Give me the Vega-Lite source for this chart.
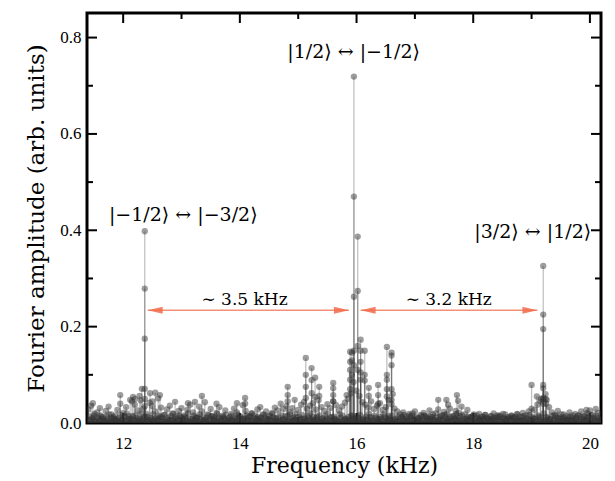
{
"$schema": "https://vega.github.io/schema/vega-lite/v6.json",
"width": 514, "height": 410,
"autosize": "none",
"padding": {"left": 87, "top": 13, "right": 14, "bottom": 58},
"background": "white",
"config": {"view": {"stroke": "black", "strokeWidth": 3}, "axis": {"grid": false, "domain": false}},
"datasets": {
"spec": [
{"f":11.4,"a":0.028},{"f":11.45,"a":0.036},{"f":11.5,"a":0.015},{"f":11.55,"a":0.022},{"f":11.6,"a":0.031},{"f":11.65,"a":0.012},{"f":11.7,"a":0.025},{"f":11.75,"a":0.034},{"f":11.8,"a":0.018},{"f":11.85,"a":0.009},
{"f":11.9,"a":0.027},{"f":11.95,"a":0.04},{"f":12.0,"a":0.021},{"f":12.05,"a":0.033},{"f":12.1,"a":0.014},{"f":12.15,"a":0.045},{"f":12.2,"a":0.038},{"f":12.25,"a":0.026},{"f":12.3,"a":0.047},{"f":12.35,"a":0.03},
{"f":12.4,"a":0.019},{"f":12.45,"a":0.042},{"f":12.5,"a":0.035},{"f":12.55,"a":0.024},{"f":12.6,"a":0.051},{"f":12.65,"a":0.032},{"f":12.7,"a":0.017},{"f":12.75,"a":0.028},{"f":12.8,"a":0.036},{"f":12.85,"a":0.02},
{"f":12.9,"a":0.013},{"f":12.95,"a":0.025},{"f":13.0,"a":0.031},{"f":13.05,"a":0.016},{"f":13.1,"a":0.027},{"f":13.15,"a":0.038},{"f":13.2,"a":0.022},{"f":13.25,"a":0.011},{"f":13.3,"a":0.034},{"f":13.35,"a":0.024},
{"f":13.4,"a":0.043},{"f":13.45,"a":0.018},{"f":13.5,"a":0.029},{"f":13.55,"a":0.012},{"f":13.6,"a":0.021},{"f":13.65,"a":0.033},{"f":13.7,"a":0.015},{"f":13.75,"a":0.026},{"f":13.8,"a":0.009},{"f":13.85,"a":0.019},
{"f":13.9,"a":0.03},{"f":13.95,"a":0.022},{"f":14.0,"a":0.014},{"f":14.05,"a":0.037},{"f":14.1,"a":0.025},{"f":14.15,"a":0.011},{"f":14.2,"a":0.02},{"f":14.25,"a":0.016},{"f":14.3,"a":0.028},{"f":14.35,"a":0.01},
{"f":14.4,"a":0.018},{"f":14.45,"a":0.024},{"f":14.5,"a":0.013},{"f":14.55,"a":0.021},{"f":14.6,"a":0.032},{"f":14.65,"a":0.026},{"f":14.7,"a":0.04},{"f":14.75,"a":0.029},{"f":14.8,"a":0.035},{"f":14.85,"a":0.023},
{"f":14.9,"a":0.031},{"f":14.95,"a":0.019},{"f":15.0,"a":0.027},{"f":15.05,"a":0.038},{"f":15.1,"a":0.044},{"f":15.15,"a":0.03},{"f":15.2,"a":0.036},{"f":15.25,"a":0.041},{"f":15.3,"a":0.028},{"f":15.35,"a":0.047},
{"f":15.4,"a":0.033},{"f":15.45,"a":0.025},{"f":15.5,"a":0.039},{"f":15.55,"a":0.031},{"f":15.6,"a":0.045},{"f":15.65,"a":0.037},{"f":15.7,"a":0.026},{"f":15.75,"a":0.034},{"f":15.8,"a":0.042},{"f":15.85,"a":0.05},
{"f":15.9,"a":0.061},{"f":15.95,"a":0.085},{"f":16.0,"a":0.067},{"f":16.05,"a":0.056},{"f":16.1,"a":0.043},{"f":16.15,"a":0.038},{"f":16.2,"a":0.032},{"f":16.25,"a":0.045},{"f":16.3,"a":0.029},{"f":16.35,"a":0.036},
{"f":16.4,"a":0.041},{"f":16.45,"a":0.027},{"f":16.5,"a":0.033},{"f":16.55,"a":0.048},{"f":16.6,"a":0.039},{"f":16.65,"a":0.03},{"f":16.7,"a":0.024},{"f":16.75,"a":0.018},{"f":16.8,"a":0.022},{"f":16.85,"a":0.013},
{"f":16.9,"a":0.019},{"f":16.95,"a":0.015},{"f":17.0,"a":0.024},{"f":17.05,"a":0.011},{"f":17.1,"a":0.017},{"f":17.15,"a":0.021},{"f":17.2,"a":0.014},{"f":17.25,"a":0.026},{"f":17.3,"a":0.012},{"f":17.35,"a":0.02},
{"f":17.4,"a":0.028},{"f":17.45,"a":0.016},{"f":17.5,"a":0.023},{"f":17.55,"a":0.019},{"f":17.6,"a":0.03},{"f":17.65,"a":0.014},{"f":17.7,"a":0.025},{"f":17.75,"a":0.021},{"f":17.8,"a":0.034},{"f":17.85,"a":0.018},
{"f":17.9,"a":0.027},{"f":17.95,"a":0.012},{"f":18.0,"a":0.016},{"f":18.05,"a":0.01},{"f":18.1,"a":0.019},{"f":18.15,"a":0.013},{"f":18.2,"a":0.017},{"f":18.25,"a":0.008},{"f":18.3,"a":0.014},{"f":18.35,"a":0.02},
{"f":18.4,"a":0.011},{"f":18.45,"a":0.016},{"f":18.5,"a":0.009},{"f":18.55,"a":0.018},{"f":18.6,"a":0.012},{"f":18.65,"a":0.015},{"f":18.7,"a":0.01},{"f":18.75,"a":0.019},{"f":18.8,"a":0.013},{"f":18.85,"a":0.021},
{"f":18.9,"a":0.016},{"f":18.95,"a":0.024},{"f":19.0,"a":0.03},{"f":19.05,"a":0.027},{"f":19.1,"a":0.038},{"f":19.15,"a":0.045},{"f":19.2,"a":0.052},{"f":19.25,"a":0.04},{"f":19.3,"a":0.033},{"f":19.35,"a":0.022},
{"f":19.4,"a":0.017},{"f":19.45,"a":0.025},{"f":19.5,"a":0.012},{"f":19.55,"a":0.018},{"f":19.6,"a":0.014},{"f":19.65,"a":0.022},{"f":19.7,"a":0.011},{"f":19.75,"a":0.019},{"f":19.8,"a":0.016},{"f":19.85,"a":0.024},
{"f":19.9,"a":0.013},{"f":19.95,"a":0.02},{"f":20.0,"a":0.026},{"f":20.05,"a":0.017},{"f":20.1,"a":0.029},{"f":20.15,"a":0.021},
{"f":11.425,"a":0.006},{"f":11.475,"a":0.011},{"f":11.525,"a":0.003},{"f":11.575,"a":0.009},{"f":11.625,"a":0.013},{"f":11.675,"a":0.004},{"f":11.725,"a":0.008},{"f":11.775,"a":0.002},{"f":11.825,"a":0.012},{"f":11.875,"a":0.007},
{"f":11.925,"a":0.01},{"f":11.975,"a":0.005},{"f":12.025,"a":0.014},{"f":12.075,"a":0.003},{"f":12.125,"a":0.009},{"f":12.175,"a":0.006},{"f":12.225,"a":0.011},{"f":12.275,"a":0.004},{"f":12.325,"a":0.008},{"f":12.375,"a":0.013},
{"f":12.425,"a":0.002},{"f":12.475,"a":0.01},{"f":12.525,"a":0.007},{"f":12.575,"a":0.005},{"f":12.625,"a":0.012},{"f":12.675,"a":0.009},{"f":12.725,"a":0.003},{"f":12.775,"a":0.011},{"f":12.825,"a":0.006},{"f":12.875,"a":0.008},
{"f":12.925,"a":0.004},{"f":12.975,"a":0.013},{"f":13.025,"a":0.007},{"f":13.075,"a":0.01},{"f":13.125,"a":0.002},{"f":13.175,"a":0.009},{"f":13.225,"a":0.005},{"f":13.275,"a":0.012},{"f":13.325,"a":0.008},{"f":13.375,"a":0.003},
{"f":13.425,"a":0.011},{"f":13.475,"a":0.006},{"f":13.525,"a":0.014},{"f":13.575,"a":0.004},{"f":13.625,"a":0.009},{"f":13.675,"a":0.007},{"f":13.725,"a":0.01},{"f":13.775,"a":0.003},{"f":13.825,"a":0.012},{"f":13.875,"a":0.005},
{"f":13.925,"a":0.008},{"f":13.975,"a":0.011},{"f":14.025,"a":0.002},{"f":14.075,"a":0.009},{"f":14.125,"a":0.006},{"f":14.175,"a":0.013},{"f":14.225,"a":0.004},{"f":14.275,"a":0.01},{"f":14.325,"a":0.007},{"f":14.375,"a":0.003},
{"f":14.425,"a":0.012},{"f":14.475,"a":0.008},{"f":14.525,"a":0.005},{"f":14.575,"a":0.011},{"f":14.625,"a":0.009},{"f":14.675,"a":0.002},{"f":14.725,"a":0.006},{"f":14.775,"a":0.014},{"f":14.825,"a":0.004},{"f":14.875,"a":0.01},
{"f":14.925,"a":0.007},{"f":14.975,"a":0.012},{"f":15.025,"a":0.003},{"f":15.075,"a":0.009},{"f":15.125,"a":0.005},{"f":15.175,"a":0.011},{"f":15.225,"a":0.008},{"f":15.275,"a":0.006},{"f":15.325,"a":0.013},{"f":15.375,"a":0.002},
{"f":15.425,"a":0.01},{"f":15.475,"a":0.004},{"f":15.525,"a":0.007},{"f":15.575,"a":0.012},{"f":15.625,"a":0.009},{"f":15.675,"a":0.003},{"f":15.725,"a":0.011},{"f":15.775,"a":0.005},{"f":15.825,"a":0.008},{"f":15.875,"a":0.006},
{"f":15.925,"a":0.014},{"f":15.975,"a":0.004},{"f":16.025,"a":0.01},{"f":16.075,"a":0.002},{"f":16.125,"a":0.009},{"f":16.175,"a":0.007},{"f":16.225,"a":0.012},{"f":16.275,"a":0.005},{"f":16.325,"a":0.011},{"f":16.375,"a":0.003},
{"f":16.425,"a":0.008},{"f":16.475,"a":0.013},{"f":16.525,"a":0.006},{"f":16.575,"a":0.01},{"f":16.625,"a":0.004},{"f":16.675,"a":0.009},{"f":16.725,"a":0.002},{"f":16.775,"a":0.012},{"f":16.825,"a":0.007},{"f":16.875,"a":0.005},
{"f":16.925,"a":0.011},{"f":16.975,"a":0.008},{"f":17.025,"a":0.003},{"f":17.075,"a":0.01},{"f":17.125,"a":0.006},{"f":17.175,"a":0.013},{"f":17.225,"a":0.004},{"f":17.275,"a":0.009},{"f":17.325,"a":0.007},{"f":17.375,"a":0.002},
{"f":17.425,"a":0.012},{"f":17.475,"a":0.005},{"f":17.525,"a":0.011},{"f":17.575,"a":0.008},{"f":17.625,"a":0.003},{"f":17.675,"a":0.01},{"f":17.725,"a":0.006},{"f":17.775,"a":0.014},{"f":17.825,"a":0.004},{"f":17.875,"a":0.009},
{"f":17.925,"a":0.007},{"f":17.975,"a":0.012},{"f":18.025,"a":0.002},{"f":18.075,"a":0.01},{"f":18.125,"a":0.005},{"f":18.175,"a":0.008},{"f":18.225,"a":0.011},{"f":18.275,"a":0.003},{"f":18.325,"a":0.009},{"f":18.375,"a":0.006},
{"f":18.425,"a":0.013},{"f":18.475,"a":0.004},{"f":18.525,"a":0.01},{"f":18.575,"a":0.007},{"f":18.625,"a":0.002},{"f":18.675,"a":0.012},{"f":18.725,"a":0.008},{"f":18.775,"a":0.005},{"f":18.825,"a":0.011},{"f":18.875,"a":0.003},
{"f":18.925,"a":0.009},{"f":18.975,"a":0.006},{"f":19.025,"a":0.01},{"f":19.075,"a":0.004},{"f":19.125,"a":0.013},{"f":19.175,"a":0.007},{"f":19.225,"a":0.002},{"f":19.275,"a":0.011},{"f":19.325,"a":0.008},{"f":19.375,"a":0.005},
{"f":19.425,"a":0.012},{"f":19.475,"a":0.003},{"f":19.525,"a":0.009},{"f":19.575,"a":0.006},{"f":19.625,"a":0.01},{"f":19.675,"a":0.004},{"f":19.725,"a":0.007},{"f":19.775,"a":0.011},{"f":19.825,"a":0.002},{"f":19.875,"a":0.008},
{"f":19.925,"a":0.005},{"f":19.975,"a":0.012},{"f":20.025,"a":0.009},{"f":20.075,"a":0.003},{"f":20.125,"a":0.01},{"f":20.175,"a":0.006},
{"f":11.41,"a":0.014},{"f":11.46,"a":0.008},{"f":11.51,"a":0.019},{"f":11.56,"a":0.011},{"f":11.61,"a":0.016},{"f":11.66,"a":0.007},{"f":11.71,"a":0.013},{"f":11.76,"a":0.018},{"f":11.81,"a":0.01},{"f":11.86,"a":0.015},
{"f":11.91,"a":0.006},{"f":11.96,"a":0.017},{"f":12.01,"a":0.012},{"f":12.06,"a":0.02},{"f":12.11,"a":0.009},{"f":12.16,"a":0.014},{"f":12.21,"a":0.016},{"f":12.26,"a":0.008},{"f":12.31,"a":0.019},{"f":12.36,"a":0.011},
{"f":12.41,"a":0.013},{"f":12.46,"a":0.007},{"f":12.51,"a":0.018},{"f":12.56,"a":0.01},{"f":12.61,"a":0.015},{"f":12.66,"a":0.012},{"f":12.71,"a":0.017},{"f":12.76,"a":0.006},{"f":12.81,"a":0.014},{"f":12.86,"a":0.019},
{"f":12.91,"a":0.009},{"f":12.96,"a":0.016},{"f":13.01,"a":0.011},{"f":13.06,"a":0.013},{"f":13.11,"a":0.02},{"f":13.16,"a":0.008},{"f":13.21,"a":0.015},{"f":13.26,"a":0.01},{"f":13.31,"a":0.018},{"f":13.36,"a":0.012},
{"f":13.41,"a":0.007},{"f":13.46,"a":0.016},{"f":13.51,"a":0.014},{"f":13.56,"a":0.009},{"f":13.61,"a":0.019},{"f":13.66,"a":0.011},{"f":13.71,"a":0.013},{"f":13.76,"a":0.017},{"f":13.81,"a":0.006},{"f":13.86,"a":0.015},
{"f":13.91,"a":0.01},{"f":13.96,"a":0.018},{"f":14.01,"a":0.012},{"f":14.06,"a":0.008},{"f":14.11,"a":0.016},{"f":14.16,"a":0.014},{"f":14.21,"a":0.02},{"f":14.26,"a":0.009},{"f":14.31,"a":0.013},{"f":14.36,"a":0.011},
{"f":14.41,"a":0.017},{"f":14.46,"a":0.007},{"f":14.51,"a":0.015},{"f":14.56,"a":0.019},{"f":14.61,"a":0.01},{"f":14.66,"a":0.012},{"f":14.71,"a":0.016},{"f":14.76,"a":0.008},{"f":14.81,"a":0.014},{"f":14.86,"a":0.018},
{"f":14.91,"a":0.011},{"f":14.96,"a":0.006},{"f":15.01,"a":0.013},{"f":15.06,"a":0.017},{"f":15.11,"a":0.009},{"f":15.16,"a":0.015},{"f":15.21,"a":0.02},{"f":15.26,"a":0.012},{"f":15.31,"a":0.01},{"f":15.36,"a":0.016},
{"f":15.41,"a":0.008},{"f":15.46,"a":0.014},{"f":15.51,"a":0.019},{"f":15.56,"a":0.011},{"f":15.61,"a":0.013},{"f":15.66,"a":0.007},{"f":15.71,"a":0.018},{"f":15.76,"a":0.015},{"f":15.81,"a":0.009},{"f":15.86,"a":0.012},
{"f":15.91,"a":0.016},{"f":15.96,"a":0.01},{"f":16.01,"a":0.014},{"f":16.06,"a":0.017},{"f":16.11,"a":0.006},{"f":16.16,"a":0.013},{"f":16.21,"a":0.019},{"f":16.26,"a":0.011},{"f":16.31,"a":0.015},{"f":16.36,"a":0.008},
{"f":16.41,"a":0.012},{"f":16.46,"a":0.018},{"f":16.51,"a":0.01},{"f":16.56,"a":0.014},{"f":16.61,"a":0.016},{"f":16.66,"a":0.007},{"f":16.71,"a":0.013},{"f":16.76,"a":0.011},{"f":16.81,"a":0.017},{"f":16.86,"a":0.009},
{"f":16.91,"a":0.015},{"f":16.96,"a":0.02},{"f":17.01,"a":0.012},{"f":17.06,"a":0.008},{"f":17.11,"a":0.014},{"f":17.16,"a":0.016},{"f":17.21,"a":0.01},{"f":17.26,"a":0.013},{"f":17.31,"a":0.018},{"f":17.36,"a":0.011},
{"f":17.41,"a":0.006},{"f":17.46,"a":0.015},{"f":17.51,"a":0.017},{"f":17.56,"a":0.009},{"f":17.61,"a":0.012},{"f":17.66,"a":0.014},{"f":17.71,"a":0.019},{"f":17.76,"a":0.01},{"f":17.81,"a":0.016},{"f":17.86,"a":0.008},
{"f":17.91,"a":0.013},{"f":17.96,"a":0.011},{"f":18.01,"a":0.018},{"f":18.06,"a":0.015},{"f":18.11,"a":0.007},{"f":18.16,"a":0.012},{"f":18.21,"a":0.017},{"f":18.26,"a":0.009},{"f":18.31,"a":0.014},{"f":18.36,"a":0.01},
{"f":18.41,"a":0.016},{"f":18.46,"a":0.013},{"f":18.51,"a":0.019},{"f":18.56,"a":0.008},{"f":18.61,"a":0.011},{"f":18.66,"a":0.015},{"f":18.71,"a":0.012},{"f":18.76,"a":0.018},{"f":18.81,"a":0.006},{"f":18.86,"a":0.014},
{"f":18.91,"a":0.01},{"f":18.96,"a":0.017},{"f":19.01,"a":0.013},{"f":19.06,"a":0.009},{"f":19.11,"a":0.016},{"f":19.16,"a":0.011},{"f":19.21,"a":0.02},{"f":19.26,"a":0.012},{"f":19.31,"a":0.008},{"f":19.36,"a":0.015},
{"f":19.41,"a":0.014},{"f":19.46,"a":0.01},{"f":19.51,"a":0.018},{"f":19.56,"a":0.011},{"f":19.61,"a":0.007},{"f":19.66,"a":0.013},{"f":19.71,"a":0.016},{"f":19.76,"a":0.009},{"f":19.81,"a":0.015},{"f":19.86,"a":0.012},
{"f":19.91,"a":0.014},{"f":19.96,"a":0.01},{"f":20.01,"a":0.017},{"f":20.06,"a":0.011},{"f":20.11,"a":0.015},{"f":20.16,"a":0.009},
{"f":11.44,"a":0.003},{"f":11.49,"a":0.006},{"f":11.54,"a":0.002},{"f":11.59,"a":0.005},{"f":11.64,"a":0.008},{"f":11.69,"a":0.001},{"f":11.74,"a":0.004},{"f":11.79,"a":0.007},{"f":11.84,"a":0.003},{"f":11.89,"a":0.005},
{"f":11.94,"a":0.002},{"f":11.99,"a":0.006},{"f":12.04,"a":0.004},{"f":12.09,"a":0.008},{"f":12.14,"a":0.001},{"f":12.19,"a":0.005},{"f":12.24,"a":0.003},{"f":12.29,"a":0.007},{"f":12.34,"a":0.002},{"f":12.39,"a":0.004},
{"f":12.44,"a":0.006},{"f":12.49,"a":0.001},{"f":12.54,"a":0.005},{"f":12.59,"a":0.008},{"f":12.64,"a":0.003},{"f":12.69,"a":0.004},{"f":12.74,"a":0.002},{"f":12.79,"a":0.007},{"f":12.84,"a":0.005},{"f":12.89,"a":0.001},
{"f":12.94,"a":0.006},{"f":12.99,"a":0.003},{"f":13.04,"a":0.008},{"f":13.09,"a":0.004},{"f":13.14,"a":0.002},{"f":13.19,"a":0.005},{"f":13.24,"a":0.007},{"f":13.29,"a":0.001},{"f":13.34,"a":0.003},{"f":13.39,"a":0.006},
{"f":13.44,"a":0.004},{"f":13.49,"a":0.002},{"f":13.54,"a":0.008},{"f":13.59,"a":0.005},{"f":13.64,"a":0.001},{"f":13.69,"a":0.003},{"f":13.74,"a":0.007},{"f":13.79,"a":0.004},{"f":13.84,"a":0.006},{"f":13.89,"a":0.002},
{"f":13.94,"a":0.005},{"f":13.99,"a":0.001},{"f":14.04,"a":0.008},{"f":14.09,"a":0.003},{"f":14.14,"a":0.004},{"f":14.19,"a":0.006},{"f":14.24,"a":0.002},{"f":14.29,"a":0.007},{"f":14.34,"a":0.005},{"f":14.39,"a":0.001},
{"f":14.44,"a":0.003},{"f":14.49,"a":0.008},{"f":14.54,"a":0.004},{"f":14.59,"a":0.006},{"f":14.64,"a":0.002},{"f":14.69,"a":0.005},{"f":14.74,"a":0.007},{"f":14.79,"a":0.001},{"f":14.84,"a":0.003},{"f":14.89,"a":0.004},
{"f":14.94,"a":0.006},{"f":14.99,"a":0.002},{"f":15.04,"a":0.008},{"f":15.09,"a":0.005},{"f":15.14,"a":0.001},{"f":15.19,"a":0.007},{"f":15.24,"a":0.003},{"f":15.29,"a":0.004},{"f":15.34,"a":0.006},{"f":15.39,"a":0.002},
{"f":15.44,"a":0.005},{"f":15.49,"a":0.008},{"f":15.54,"a":0.001},{"f":15.59,"a":0.003},{"f":15.64,"a":0.007},{"f":15.69,"a":0.004},{"f":15.74,"a":0.002},{"f":15.79,"a":0.006},{"f":15.84,"a":0.005},{"f":15.89,"a":0.001},
{"f":15.94,"a":0.008},{"f":15.99,"a":0.003},{"f":16.04,"a":0.004},{"f":16.09,"a":0.007},{"f":16.14,"a":0.002},{"f":16.19,"a":0.006},{"f":16.24,"a":0.005},{"f":16.29,"a":0.001},{"f":16.34,"a":0.003},{"f":16.39,"a":0.008},
{"f":16.44,"a":0.004},{"f":16.49,"a":0.002},{"f":16.54,"a":0.007},{"f":16.59,"a":0.006},{"f":16.64,"a":0.001},{"f":16.69,"a":0.005},{"f":16.74,"a":0.003},{"f":16.79,"a":0.008},{"f":16.84,"a":0.004},{"f":16.89,"a":0.002},
{"f":16.94,"a":0.006},{"f":16.99,"a":0.007},{"f":17.04,"a":0.001},{"f":17.09,"a":0.005},{"f":17.14,"a":0.003},{"f":17.19,"a":0.004},{"f":17.24,"a":0.008},{"f":17.29,"a":0.002},{"f":17.34,"a":0.006},{"f":17.39,"a":0.001},
{"f":17.44,"a":0.007},{"f":17.49,"a":0.005},{"f":17.54,"a":0.003},{"f":17.59,"a":0.004},{"f":17.64,"a":0.002},{"f":17.69,"a":0.008},{"f":17.74,"a":0.006},{"f":17.79,"a":0.001},{"f":17.84,"a":0.005},{"f":17.89,"a":0.007},
{"f":17.94,"a":0.003},{"f":17.99,"a":0.004},{"f":18.04,"a":0.002},{"f":18.09,"a":0.006},{"f":18.14,"a":0.008},{"f":18.19,"a":0.001},{"f":18.24,"a":0.005},{"f":18.29,"a":0.003},{"f":18.34,"a":0.007},{"f":18.39,"a":0.004},
{"f":18.44,"a":0.002},{"f":18.49,"a":0.006},{"f":18.54,"a":0.001},{"f":18.59,"a":0.008},{"f":18.64,"a":0.005},{"f":18.69,"a":0.003},{"f":18.74,"a":0.004},{"f":18.79,"a":0.007},{"f":18.84,"a":0.002},{"f":18.89,"a":0.006},
{"f":18.94,"a":0.001},{"f":18.99,"a":0.005},{"f":19.04,"a":0.008},{"f":19.09,"a":0.003},{"f":19.14,"a":0.004},{"f":19.19,"a":0.002},{"f":19.24,"a":0.007},{"f":19.29,"a":0.006},{"f":19.34,"a":0.001},{"f":19.39,"a":0.005},
{"f":19.44,"a":0.003},{"f":19.49,"a":0.008},{"f":19.54,"a":0.004},{"f":19.59,"a":0.002},{"f":19.64,"a":0.006},{"f":19.69,"a":0.007},{"f":19.74,"a":0.001},{"f":19.79,"a":0.005},{"f":19.84,"a":0.003},{"f":19.89,"a":0.004},
{"f":19.94,"a":0.006},{"f":19.99,"a":0.002},{"f":20.04,"a":0.007},{"f":20.09,"a":0.005},{"f":20.14,"a":0.003},{"f":20.19,"a":0.004},
{"f":11.48,"a":0.041},{"f":11.95,"a":0.058},{"f":12.12,"a":0.048},{"f":12.17,"a":0.054},{"f":12.2,"a":0.05},{"f":12.28,"a":0.056},{"f":12.32,"a":0.071},{"f":12.46,"a":0.062},{"f":12.5,"a":0.045},{"f":12.55,"a":0.063},
{"f":12.63,"a":0.058},{"f":12.89,"a":0.044},{"f":13.11,"a":0.041},{"f":13.23,"a":0.044},{"f":13.35,"a":0.056},{"f":13.6,"a":0.04},{"f":13.95,"a":0.041},{"f":14.09,"a":0.052},{"f":14.09,"a":0.04},{"f":14.35,"a":0.033},
{"f":17.4,"a":0.048},{"f":17.54,"a":0.048},{"f":17.57,"a":0.038},{"f":17.72,"a":0.058},{"f":17.74,"a":0.046},{"f":19.0,"a":0.079},{"f":19.09,"a":0.055},{"f":19.26,"a":0.048},{"f":19.94,"a":0.027},
{"f":12.37,"a":0.398},{"f":12.37,"a":0.279},{"f":12.37,"a":0.175},{"f":12.37,"a":0.071},{"f":12.37,"a":0.05},{"f":12.37,"a":0.035},
{"f":15.955,"a":0.719},{"f":15.955,"a":0.47},{"f":15.955,"a":0.262},{"f":15.955,"a":0.15},{"f":15.955,"a":0.12},
{"f":16.02,"a":0.387},{"f":16.02,"a":0.274},{"f":16.02,"a":0.16},{"f":16.02,"a":0.11},
{"f":16.07,"a":0.173},{"f":16.07,"a":0.15},{"f":16.07,"a":0.127},{"f":16.07,"a":0.105},{"f":16.07,"a":0.09},
{"f":15.89,"a":0.148},{"f":15.89,"a":0.127},{"f":15.89,"a":0.11},{"f":15.89,"a":0.09},{"f":15.89,"a":0.07},
{"f":15.92,"a":0.146},{"f":15.92,"a":0.13},{"f":15.92,"a":0.1},
{"f":16.14,"a":0.15},{"f":16.14,"a":0.1},{"f":16.14,"a":0.088},
{"f":15.13,"a":0.135},{"f":15.13,"a":0.1},{"f":15.13,"a":0.075},{"f":15.13,"a":0.052},
{"f":15.23,"a":0.114},{"f":15.23,"a":0.089},{"f":15.23,"a":0.062},
{"f":15.29,"a":0.094},{"f":15.29,"a":0.054},
{"f":15.36,"a":0.075},{"f":15.36,"a":0.056},
{"f":14.82,"a":0.075},{"f":14.82,"a":0.058},{"f":14.82,"a":0.045},
{"f":14.94,"a":0.048},
{"f":15.6,"a":0.083},{"f":15.6,"a":0.072},{"f":15.6,"a":0.058},{"f":15.6,"a":0.045},
{"f":15.83,"a":0.058},
{"f":16.21,"a":0.073},{"f":16.21,"a":0.056},
{"f":16.37,"a":0.079},{"f":16.37,"a":0.058},{"f":16.37,"a":0.04},
{"f":16.52,"a":0.158},{"f":16.52,"a":0.1},{"f":16.52,"a":0.09},{"f":16.52,"a":0.07},{"f":16.52,"a":0.055},
{"f":16.6,"a":0.146},{"f":16.6,"a":0.14},{"f":16.6,"a":0.12},{"f":16.6,"a":0.07},{"f":16.6,"a":0.048},
{"f":16.62,"a":0.06},
{"f":19.2,"a":0.326},{"f":19.2,"a":0.225},{"f":19.2,"a":0.195},{"f":19.2,"a":0.079},{"f":19.2,"a":0.072},{"f":19.2,"a":0.05},{"f":19.2,"a":0.04},
{"f":19.24,"a":0.06},{"f":19.24,"a":0.05},{"f":19.16,"a":0.05}
],
"arrows": [{"x1":12.42,"x2":15.87,"y":0.234},{"x1":16.07,"x2":19.1,"y":0.234}],
"heads": [{"x":12.42,"y":0.234,"d":"L"},{"x":15.87,"y":0.234,"d":"R"},{"x":16.07,"y":0.234,"d":"L"},{"x":19.1,"y":0.234,"d":"R"}],
"notes": [
{"x":15.95,"y":0.771,"t":"|1/2⟩ ↔ |−1/2⟩","k":"ket"},
{"x":13.03,"y":0.432,"t":"|−1/2⟩ ↔ |−3/2⟩","k":"ket"},
{"x":19.02,"y":0.397,"t":"|3/2⟩ ↔ |1/2⟩","k":"ket"},
{"x":14.08,"y":0.256,"t":"∼ 3.5 kHz","k":"gap"},
{"x":17.58,"y":0.256,"t":"∼ 3.2 kHz","k":"gap"}
],
"xt": [{"v":12,"k":"M"},{"v":13,"k":"m"},{"v":14,"k":"M"},{"v":15,"k":"m"},{"v":16,"k":"M"},{"v":17,"k":"m"},{"v":18,"k":"M"},{"v":19,"k":"m"},{"v":20,"k":"M"}],
"yt": [{"v":0.2,"k":"M"},{"v":0.1,"k":"m"},{"v":0.3,"k":"m"},{"v":0.4,"k":"M"},{"v":0.5,"k":"m"},{"v":0.6,"k":"M"},{"v":0.7,"k":"m"},{"v":0.8,"k":"M"}]
},
"layer": [
{
"data": {"name": "spec"},
"mark": {"type": "rule", "clip": true, "color": "#333333", "opacity": 0.3, "strokeWidth": 1.3},
"encoding": {
"x": {"field": "f", "type": "quantitative", "scale": {"domain": [11.38, 20.19], "nice": false, "zero": false},
"axis": {"orient": "bottom", "values": [12, 14, 16, 18, 20], "format": "d", "ticks": false, "labelFont": "Liberation Serif", "labelFontSize": 17, "labelColor": "black", "labelPadding": 12, "title": "Frequency (kHz)", "titleFont": "DejaVu Serif", "titleFontSize": 22, "titleFontWeight": "normal", "titleColor": "black", "titlePadding": 4}},
"y": {"field": "a", "type": "quantitative", "scale": {"domain": [0, 0.851], "nice": false},
"axis": {"orient": "left", "values": [0, 0.2, 0.4, 0.6, 0.8], "format": ".1f", "ticks": false, "labelFont": "Liberation Serif", "labelFontSize": 17, "labelColor": "black", "labelPadding": 6, "title": "Fourier amplitude (arb. units)", "titleFont": "DejaVu Serif", "titleFontSize": 23, "titleFontWeight": "normal", "titleColor": "black", "titlePadding": 11}},
"y2": {"datum": 0}
}
},
{
"data": {"name": "xt"},
"transform": [{"filter": "datum.k === 'M'"}],
"mark": {"type": "rule", "color": "black", "strokeWidth": 2},
"encoding": {"x": {"field": "v", "type": "quantitative"}, "y": {"datum": 0}, "y2": {"datum": 0.0208}}
},
{
"data": {"name": "xt"},
"transform": [{"filter": "datum.k === 'm'"}],
"mark": {"type": "rule", "color": "black", "strokeWidth": 2},
"encoding": {"x": {"field": "v", "type": "quantitative"}, "y": {"datum": 0}, "y2": {"datum": 0.0125}}
},
{
"data": {"name": "xt"},
"transform": [{"filter": "datum.k === 'M'"}],
"mark": {"type": "rule", "color": "black", "strokeWidth": 2},
"encoding": {"x": {"field": "v", "type": "quantitative"}, "y": {"datum": 0.851}, "y2": {"datum": 0.8302}}
},
{
"data": {"name": "xt"},
"transform": [{"filter": "datum.k === 'm'"}],
"mark": {"type": "rule", "color": "black", "strokeWidth": 2},
"encoding": {"x": {"field": "v", "type": "quantitative"}, "y": {"datum": 0.851}, "y2": {"datum": 0.8385}}
},
{
"data": {"name": "yt"},
"transform": [{"filter": "datum.k === 'M'"}],
"mark": {"type": "rule", "color": "black", "strokeWidth": 2},
"encoding": {"y": {"field": "v", "type": "quantitative"}, "x": {"datum": 11.38}, "x2": {"datum": 11.551}}
},
{
"data": {"name": "yt"},
"transform": [{"filter": "datum.k === 'm'"}],
"mark": {"type": "rule", "color": "black", "strokeWidth": 2},
"encoding": {"y": {"field": "v", "type": "quantitative"}, "x": {"datum": 11.38}, "x2": {"datum": 11.483}}
},
{
"data": {"name": "yt"},
"transform": [{"filter": "datum.k === 'M'"}],
"mark": {"type": "rule", "color": "black", "strokeWidth": 2},
"encoding": {"y": {"field": "v", "type": "quantitative"}, "x": {"datum": 20.19}, "x2": {"datum": 20.019}}
},
{
"data": {"name": "yt"},
"transform": [{"filter": "datum.k === 'm'"}],
"mark": {"type": "rule", "color": "black", "strokeWidth": 2},
"encoding": {"y": {"field": "v", "type": "quantitative"}, "x": {"datum": 20.19}, "x2": {"datum": 20.087}}
},
{
"data": {"name": "spec"},
"mark": {"type": "point", "filled": true, "clip": true, "color": "#333333", "opacity": 0.48, "size": 40},
"encoding": {
"x": {"field": "f", "type": "quantitative"},
"y": {"field": "a", "type": "quantitative"}
}
},
{
"data": {"name": "arrows"},
"mark": {"type": "rule", "color": "#f26b4b", "opacity": 0.75, "strokeWidth": 1.5},
"encoding": {
"x": {"field": "x1", "type": "quantitative"},
"x2": {"field": "x2"},
"y": {"field": "y", "type": "quantitative"}
}
},
{
"data": {"name": "heads"},
"mark": {"type": "point", "filled": true, "color": "#f26b4b", "opacity": 0.85, "size": 225, "strokeWidth": 0},
"encoding": {
"x": {"field": "x", "type": "quantitative"},
"y": {"field": "y", "type": "quantitative"},
"shape": {"field": "d", "type": "nominal", "legend": null, "scale": {"domain": ["L", "R"], "range": ["M0,0L2,-0.47L2,0.47Z", "M0,0L-2,-0.47L-2,0.47Z"]}}
}
},
{
"data": {"name": "notes"},
"mark": {"type": "text", "font": "DejaVu Serif", "color": "black", "align": "center", "baseline": "middle"},
"encoding": {
"x": {"field": "x", "type": "quantitative"},
"y": {"field": "y", "type": "quantitative"},
"text": {"field": "t"},
"size": {"field": "k", "type": "nominal", "legend": null, "scale": {"domain": ["ket", "gap"], "range": [19, 17]}}
}
}
]
}
